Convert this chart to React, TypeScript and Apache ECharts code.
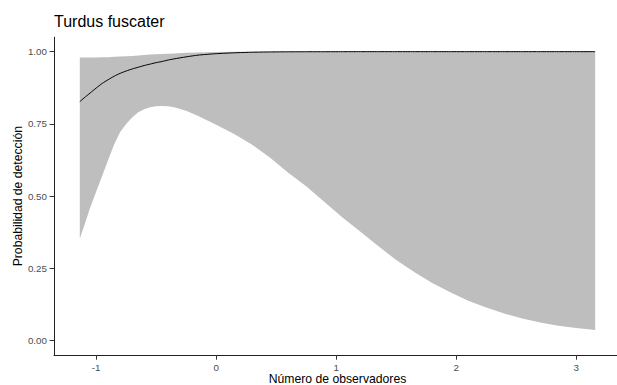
import React, { useEffect, useRef } from "react";
import * as echarts from "echarts";

const xValues = [
  -1.136, -1.1, -1.05, -1.0, -0.95, -0.9, -0.85, -0.8, -0.75, -0.7, -0.65, -0.6, -0.55,
  -0.5, -0.45, -0.4, -0.35, -0.25, -0.15, 0, 0.15, 0.3, 0.45, 0.6, 0.75, 0.9, 1.05, 1.2,
  1.35, 1.5, 1.65, 1.8, 1.95, 2.1, 2.25, 2.4, 2.55, 2.7, 2.85, 3.0, 3.158,
];
const lowerValues = [
  0.354, 0.397, 0.46, 0.515, 0.57, 0.625, 0.679, 0.722, 0.75, 0.772, 0.79, 0.801, 0.808,
  0.811, 0.812, 0.811, 0.808, 0.796, 0.777, 0.747, 0.715, 0.678, 0.633, 0.581, 0.534,
  0.481, 0.427, 0.378, 0.328, 0.279, 0.238, 0.2, 0.168, 0.138, 0.115, 0.094, 0.077,
  0.063, 0.052, 0.044, 0.037,
];
const upperValues = [
  0.98, 0.98, 0.98, 0.98, 0.981, 0.981, 0.982, 0.983, 0.984, 0.985, 0.987, 0.988, 0.99,
  0.991, 0.992, 0.993, 0.994, 0.996, 0.997, 0.999, 0.9995, 1, 1, 1, 1, 1, 1, 1, 1, 1, 1,
  1, 1, 1, 1, 1, 1, 1, 1, 1, 1,
];
const meanValues = [
  0.827, 0.84, 0.857, 0.874, 0.89, 0.903, 0.915, 0.925, 0.933, 0.94, 0.946, 0.952, 0.957,
  0.962, 0.966, 0.971, 0.975, 0.982, 0.988, 0.993, 0.996, 0.998, 0.999, 0.9995, 0.9997,
  0.9998, 0.9999, 1, 1, 1, 1, 1, 1, 1, 1, 1, 1, 1, 1, 1, 1,
];
const xTicks = [-1, 0, 1, 2, 3];
const yTicks = [0, 0.25, 0.5, 0.75, 1];

const FONT = "'Liberation Sans', Arial, sans-serif";

export default function App() {
  const ref = useRef<HTMLDivElement>(null);
  useEffect(() => {
    if (!ref.current) return;
    const chart = echarts.init(ref.current, null, { renderer: "svg" });
    const meanData = xValues.map((x, i) => [x, meanValues[i]]);
    chart.setOption({
      animation: false,
      backgroundColor: "#ffffff",
      title: {
        text: "Turdus fuscater",
        left: 54,
        top: 13,
        padding: 0,
        textStyle: { fontFamily: FONT, fontSize: 16, fontWeight: "normal", color: "#000" },
      },
      grid: {
        left: 54,
        right: 0,
        top: 37.2,
        bottom: 29.8,
        containLabel: false,
        outerBoundsMode: "none",
      },
      xAxis: {
        type: "value",
        min: -1.351,
        max: 3.373,
        name: "Número de observadores",
        nameLocation: "middle",
        nameGap: 17,
        nameMoveOverlap: false,
        nameTextStyle: { fontFamily: FONT, fontSize: 12.2, color: "#000", lineHeight: 13 },
        axisLine: { show: true, onZero: false, lineStyle: { color: "#222", width: 1 } },
        axisTick: { show: true, length: 4.5, customValues: xTicks, lineStyle: { color: "#333" } },
        axisLabel: {
          customValues: xTicks,
          fontFamily: FONT,
          fontSize: 9.8,
          color: "#4D4D4D",
          margin: 7,
        },
        splitLine: { show: false },
      },
      yAxis: {
        type: "value",
        min: -0.05,
        max: 1.05,
        name: "Probabilidad de detección",
        nameLocation: "middle",
        nameGap: 30,
        nameMoveOverlap: false,
        nameTextStyle: { fontFamily: FONT, fontSize: 12.2, color: "#000" },
        axisLine: { show: true, onZero: false, lineStyle: { color: "#222", width: 1 } },
        axisTick: { show: true, length: 4.5, customValues: yTicks, lineStyle: { color: "#333" } },
        axisLabel: {
          customValues: yTicks,
          fontFamily: FONT,
          fontSize: 9.8,
          color: "#4D4D4D",
          margin: 7,
          formatter: (v: number) => v.toFixed(2),
        },
        splitLine: { show: false },
      },
      series: [
        {
          type: "custom",
          silent: true,
          data: [[xValues[0], lowerValues[0]]],
          renderItem: (params: any, api: any) => {
            const top = xValues.map((x, i) => api.coord([x, upperValues[i]]));
            const bottom = xValues
              .map((x, i) => api.coord([x, lowerValues[i]]))
              .reverse();
            return {
              type: "polygon",
              shape: { points: top.concat(bottom), smooth: 0 },
              style: { fill: "#BEBEBE", stroke: "none" },
            };
          },
          z: 1,
        },
        {
          type: "line",
          data: meanData,
          symbol: "none",
          smooth: 0.2,
          lineStyle: { color: "#000", width: 1 },
          silent: true,
          z: 2,
        },
      ],
    });
    return () => chart.dispose();
  }, []);
  return (
    <div style={{ position: "fixed", left: 0, top: 0, width: 617, height: 385, overflow: "hidden", background: "#fff" }}>
      <div ref={ref} style={{ width: 621, height: 385 }} />
    </div>
  );
}
